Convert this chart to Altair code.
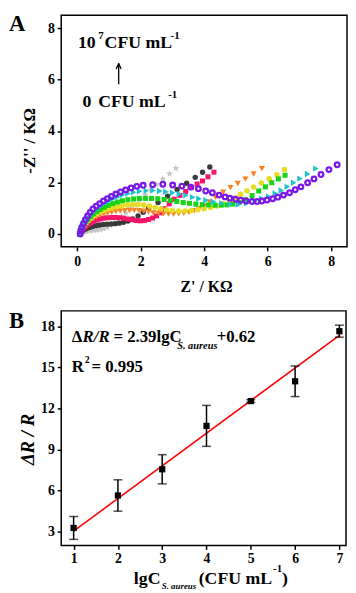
import altair as alt
import pandas as pd

SERIF = "Liberation Serif"

# ---------------- Panel A data (Nyquist plots) ----------------
gray_x = [0.08,0.10,0.13,0.17,0.22,0.28,0.35,0.43,0.52,0.62,0.72,0.83,0.94,1.05,1.16,1.28,1.40,1.53,1.67,1.82,1.98,2.15,2.33,2.50,2.70,2.91,3.11]
gray_y = [0.00,0.03,0.05,0.07,0.09,0.11,0.12,0.13,0.14,0.15,0.17,0.20,0.25,0.33,0.43,0.55,0.68,0.82,0.98,1.14,1.32,1.52,1.72,1.92,2.14,2.34,2.55]

black_x = [0.08,0.10,0.13,0.17,0.22,0.28,0.35,0.43,0.52,0.62,0.72,0.83,0.95,1.07,1.20,1.33,1.46,1.60,1.75,1.92,2.08,2.25,2.55,2.85,3.15,3.45,3.72,3.95,4.18]
black_y = [0.00,0.04,0.08,0.12,0.16,0.20,0.24,0.27,0.30,0.33,0.35,0.37,0.38,0.39,0.40,0.42,0.45,0.50,0.58,0.70,0.84,1.00,1.22,1.47,1.73,1.97,2.20,2.40,2.60]

pink_x = [0.08,0.10,0.13,0.17,0.22,0.28,0.35,0.43,0.52,0.62,0.72,0.83,0.95,1.08,1.21,1.34,1.47,1.60,1.73,1.86,1.99,2.12,2.25,2.38,2.50,2.62,2.75,2.90,3.06,3.24,3.42,3.60,3.78,3.95,4.12,4.31]
pink_y = [0.00,0.06,0.12,0.18,0.25,0.31,0.37,0.43,0.49,0.54,0.58,0.61,0.63,0.64,0.64,0.63,0.61,0.58,0.55,0.52,0.51,0.52,0.56,0.62,0.70,0.82,0.98,1.17,1.35,1.50,1.65,1.80,1.94,2.06,2.22,2.40]

orange_x = [0.08,0.10,0.13,0.17,0.22,0.28,0.35,0.43,0.52,0.62,0.72,0.84,0.96,1.09,1.22,1.36,1.50,1.65,1.80,1.95,2.10,2.25,2.40,2.56,2.72,2.88,3.04,3.20,3.36,3.52,3.68,3.84,4.00,4.17,4.36,4.60,4.83,5.06,5.30,5.56,5.82]
orange_y = [0.00,0.07,0.14,0.21,0.29,0.37,0.45,0.53,0.60,0.66,0.72,0.77,0.81,0.84,0.87,0.89,0.90,0.91,0.91,0.90,0.88,0.85,0.82,0.80,0.78,0.77,0.77,0.78,0.80,0.84,0.90,0.98,1.09,1.24,1.42,1.62,1.80,1.96,2.13,2.33,2.54]

yellow_x = [0.08,0.10,0.13,0.17,0.22,0.28,0.35,0.43,0.52,0.62,0.72,0.84,0.96,1.10,1.25,1.41,1.58,1.75,1.92,2.10,2.28,2.46,2.64,2.82,3.00,3.20,3.40,3.60,3.80,4.00,4.20,4.40,4.60,4.80,5.00,5.15,5.35,5.56,5.80,6.05,6.29,6.53]
yellow_y = [0.00,0.08,0.16,0.25,0.34,0.43,0.52,0.61,0.70,0.78,0.85,0.91,0.96,1.01,1.06,1.09,1.12,1.14,1.14,1.12,1.08,1.03,0.98,0.94,0.91,0.89,0.89,0.91,0.94,0.98,1.03,1.09,1.17,1.27,1.40,1.54,1.68,1.82,1.98,2.14,2.30,2.50]

green_x = [0.08,0.10,0.13,0.17,0.22,0.28,0.35,0.43,0.52,0.62,0.73,0.85,0.98,1.12,1.27,1.43,1.60,1.78,1.96,2.15,2.34,2.54,2.74,2.94,3.14,3.34,3.54,3.74,3.94,4.14,4.34,4.54,4.72,4.90,5.10,5.30,5.51,5.72,5.93,6.13,6.34,6.55]
green_y = [0.00,0.09,0.18,0.28,0.38,0.48,0.58,0.68,0.78,0.87,0.95,1.03,1.11,1.18,1.24,1.29,1.33,1.36,1.38,1.38,1.38,1.37,1.34,1.30,1.26,1.22,1.19,1.16,1.14,1.13,1.12,1.12,1.13,1.16,1.22,1.33,1.49,1.67,1.83,1.99,2.14,2.28]

cyan_x = [0.08,0.10,0.13,0.17,0.22,0.28,0.35,0.43,0.52,0.62,0.73,0.85,0.98,1.12,1.27,1.43,1.60,1.78,1.97,2.18,2.39,2.60,2.80,3.01,3.22,3.43,3.64,3.84,4.06,4.30,4.56,4.83,5.08,5.34,5.61,5.82,6.03,6.24,6.43,6.62,6.82,7.02,7.26,7.52]
cyan_y = [0.00,0.10,0.20,0.31,0.42,0.53,0.64,0.75,0.86,0.97,1.07,1.17,1.27,1.36,1.44,1.51,1.57,1.62,1.66,1.68,1.69,1.67,1.64,1.60,1.55,1.50,1.43,1.37,1.31,1.25,1.19,1.15,1.14,1.19,1.28,1.37,1.46,1.57,1.69,1.83,1.99,2.15,2.33,2.54]

purple_x = [0.10,0.12,0.15,0.20,0.26,0.33,0.41,0.50,0.60,0.71,0.83,0.95,1.08,1.22,1.37,1.53,1.70,1.88,2.08,2.38,2.70,3.01,3.30,3.58,3.82,4.05,4.26,4.47,4.66,4.81,4.99,5.15,5.32,5.51,5.67,5.82,5.98,6.16,6.32,6.50,6.69,6.87,7.05,7.26,7.46,7.68,7.93,8.19]
purple_y = [0.00,0.12,0.25,0.40,0.55,0.70,0.84,0.97,1.08,1.18,1.28,1.37,1.46,1.55,1.63,1.71,1.79,1.85,1.89,1.91,1.93,1.90,1.86,1.82,1.76,1.67,1.60,1.51,1.44,1.39,1.35,1.31,1.28,1.26,1.26,1.28,1.32,1.37,1.43,1.51,1.60,1.72,1.83,1.99,2.14,2.31,2.50,2.69]

# ---------------- Panel B data (calibration) ----------------
lg_c = [1, 2, 3, 4, 5, 6, 7]
dr_r = [3.24, 5.62, 7.54, 10.72, 12.54, 13.99, 17.66]
dr_err = [0.84, 1.15, 1.07, 1.50, 0.10, 1.12, 0.44]
fit_slope = 2.39
fit_intercept = 0.62
fit_x = [1, 7]

STAR = ("M0,-1L0.235,-0.324L0.951,-0.309L0.38,0.124L0.588,0.809L0,0.4"
        "L-0.588,0.809L-0.38,0.124L-0.951,-0.309L-0.235,-0.324Z")

# styles (kept apart from the data)
series = [
    (gray_x, gray_y, "#c4c4c4", STAR, 60, True),
    (black_x, black_y, "#3a3a3a", "circle", 30, True),
    (pink_x, pink_y, "#f5166c", "square", 26, True),
    (orange_x, orange_y, "#f98324", "triangle-down", 40, True),
    (yellow_x, yellow_y, "#e6dc22", "circle", 32, True),
    (green_x, green_y, "#18d418", "square", 26, True),
    (cyan_x, cyan_y, "#1cc4cc", "triangle-right", 42, True),
    (purple_x, purple_y, "#7a18e8", "circle", 22, False),
]

dummy = alt.Data(values=[{"a": 1}])


def txt(s, x, y, size, italic=False, align="left", baseline="middle", font=SERIF):
    return alt.Chart(dummy).mark_text(
        text=s, align=align, baseline=baseline, fontSize=size,
        fontWeight="bold", fontStyle="italic" if italic else "normal",
        font=font, color="black",
    ).encode(x=alt.value(x), y=alt.value(y))


def seg(x1, y1, x2, y2, w=1.3):
    return alt.Chart(dummy).mark_rule(color="black", strokeWidth=w).encode(
        x=alt.value(x1), y=alt.value(y1), x2=alt.value(x2), y2=alt.value(y2))


# ---------------- Panel A ----------------
xA = alt.X("x:Q", scale=alt.Scale(domain=[-0.5, 8.5], nice=False, zero=False),
           axis=alt.Axis(values=[0, 2, 4, 6, 8], title="Z' / KΩ", titleX=147, titleY=40,
                         titleBaseline="middle", labelPadding=4))
yA = alt.Y("y:Q", scale=alt.Scale(domain=[-0.5, 8.5], nice=False, zero=False),
           axis=alt.Axis(values=[0, 2, 4, 6, 8], title="-Z'' / KΩ", titleX=-32, titleY=127,
                         titleBaseline="middle", titleFontSize=17, labelPadding=3))

layersA = []
for sx, sy, col, shp, sz, filled in series:
    df = pd.DataFrame({"x": sx, "y": sy})
    if filled:
        m = alt.Chart(df).mark_point(shape=shp, size=sz, filled=True, color=col, opacity=1, strokeWidth=0)
    else:
        m = alt.Chart(df).mark_point(shape=shp, size=sz, filled=False, color=col, opacity=1, strokeWidth=2.3)
    layersA.append(m.encode(x=xA, y=yA))

textA = [
    txt("A", -53, -2, 23, baseline="top"),
    txt("10", 17, 28, 18),
    txt("7", 37.5, 21, 11),
    txt("CFU mL", 44, 28, 18),
    txt("-1", 111, 21, 11),
    seg(58.3, 49, 58.3, 70),
    seg(58.3, 49, 55.8, 54.5),
    seg(58.3, 49, 60.8, 54.5),
    txt("0", 21.5, 88.5, 18),
    txt("CFU mL", 37.5, 88.5, 18),
    txt("-1", 108.5, 81, 11),
]

panelA = alt.layer(*layersA, *textA).properties(width=290, height=235)

# ---------------- Panel B ----------------
dfB = pd.DataFrame({"x": lg_c, "y": dr_r, "e": dr_err})
dfB["lo"] = dfB["y"] - dfB["e"]
dfB["hi"] = dfB["y"] + dfB["e"]
dfFit = pd.DataFrame({"x": fit_x})
dfFit["y"] = [fit_slope * v + fit_intercept for v in fit_x]

scB = alt.Scale(domain=[1.96, 19.15], nice=False, zero=False)
xB = alt.X("x:Q", scale=alt.Scale(domain=[0.72, 7.15], nice=False, zero=False),
           axis=alt.Axis(values=[1, 2, 3, 4, 5, 6, 7], title=None, labelPadding=2))
yB = alt.Y("y:Q", scale=scB,
           axis=alt.Axis(values=[3, 6, 9, 12, 15, 18], title="ΔR / R", titleFontStyle="italic",
                         titleFontSize=19, titleX=-34, titleY=130, titleBaseline="middle",
                         labelPadding=3))

fit = alt.Chart(dfFit).mark_line(color="#ff0000", strokeWidth=1.6).encode(x=xB, y=yB)
bars = alt.Chart(dfB).mark_rule(color="black", strokeWidth=1.5).encode(
    x=xB, y=alt.Y("lo:Q", scale=scB), y2="hi:Q")
cap_lo = alt.Chart(dfB).mark_tick(orient="horizontal", size=9, thickness=1.5, color="black").encode(
    x=xB, y=alt.Y("lo:Q"))
cap_hi = alt.Chart(dfB).mark_tick(orient="horizontal", size=9, thickness=1.5, color="black").encode(
    x=xB, y=alt.Y("hi:Q"))
pts = alt.Chart(dfB).mark_point(shape="square", size=40, filled=True, color="black", opacity=1).encode(
    x=xB, y=yB)

textB = [
    txt("B", -53, -1, 23, baseline="top"),
    txt("Δ", 10.7, 26.7, 17),
    txt("R/R", 21.7, 26.7, 17, italic=True),
    txt("= 2.39lgC", 53, 26.7, 17),
    txt("S. aureus", 117.7, 35.7, 10.5, italic=True),
    txt("+0.62", 157.7, 26.7, 17),
    txt("R", 10.7, 56.7, 17),
    txt("2", 24, 49.7, 10),
    txt("= 0.995", 30.7, 56.7, 17),
    # x-axis title pieces
    txt("lgC", 73.7, 271.7, 18),
    txt("S. aureus", 102, 279, 9, italic=True),
    txt("(CFU mL", 139.5, 271.7, 18),
    txt("-1", 215, 262, 11),
    txt(")", 224, 271.7, 18),
]

panelB = alt.layer(fit, bars, cap_lo, cap_hi, pts, *textB).properties(width=289, height=238)

chart = alt.vconcat(panelA, panelB, spacing=65, bounds="flush").properties(
    padding=0
).configure_axis(
    labelFont=SERIF, labelFontWeight="bold", labelFontSize=14, labelColor="black",
    titleFont=SERIF, titleFontWeight="bold", titleFontSize=16, titleColor="black",
    tickColor="black", tickWidth=1.5, tickSize=4, domain=False, grid=False,
).configure_view(stroke="black", strokeWidth=1.5)

chart.save("out.html", embed_options={"renderer": "svg", "actions": False})
